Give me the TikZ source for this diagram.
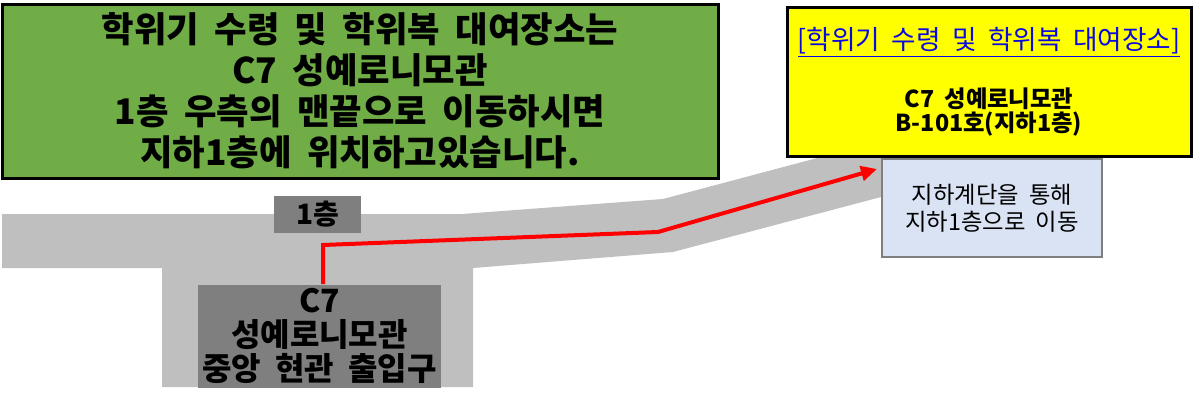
\documentclass[tikz,border=0pt]{standalone}
\usepackage{fontspec}
\setmainfont{Noto Sans CJK KR}[WordSpace=1.9]
\usetikzlibrary{arrows.meta}

\definecolor{boxgreen}{HTML}{70AD47}
\definecolor{boxyellow}{HTML}{FFFF00}
\definecolor{hallgray}{HTML}{BFBFBF}
\definecolor{roomgray}{HTML}{7F7F7F}
\definecolor{stairblue}{HTML}{DAE3F3}
\definecolor{linkblue}{HTML}{0A0AE0}

\tikzset{
  infobox/.style={draw=black, line width=2.25pt, inner sep=0pt, align=center},
  graybox/.style={fill=roomgray, inner sep=0pt, align=center},
  route/.style={draw=red, line width=3pt, -{Triangle[length=12pt,width=11pt]}},
}

\begin{document}
\begin{tikzpicture}[x=0.75pt,y=-0.75pt]
        \useasboundingbox (0,0) rectangle (1200,407);
        % hallway
        \fill[hallgray] (2,214) -- (462,214) -- (663,199) -- (900,136) -- (900,192)
          -- (673,252) -- (473,268) -- (473,387) -- (162,387) -- (162,268) -- (2,268) -- cycle;
        \node[graybox, minimum width=65.25pt, minimum height=27.75pt,
          font=\bfseries\fontsize{21}{21}\selectfont] (floor) at (317.5,214.5) {1층};
        \node[graybox, minimum width=182.25pt, minimum height=77.25pt,
          font=\bfseries\fontsize{24}{25.5}\selectfont] (entrance) at (319.5,336)
          {C7\\성예로니모관\\중앙 현관 출입구};
        % route
        \coordinate (bend1) at (323,245);
        \coordinate (bend2) at (658,232);
        \coordinate (tip) at (877,169);
        \draw[route] (entrance.north -| bend1) -- (bend1) -- (bend2) -- (tip);
        % boxes
        \node[infobox, fill=boxgreen, minimum width=537pt, minimum height=130.5pt,
          font=\bfseries\fontsize{26.5}{30.75}\selectfont] (notice) at (360,91)
          {학위기 수령 및 학위복 대여장소는\\C7 성예로니모관\\1층 우측의 맨끝으로 이동하시면\\지하1층에 위치하고있습니다.};
        \node[infobox, fill=boxyellow, minimum width=303pt, minimum height=111.75pt] (room) at (989,81.5) {};
        \node[font=\fontsize{20}{22}\selectfont, text=linkblue] (roomtitle) at (989,42)
          {\underline{[학위기 수령 및 학위복 대여장소]}};
        \node[align=center, font=\bfseries\fontsize{17.5}{17.5}\selectfont] (roomno) at (989,112)
          {C7 성예로니모관\\B-101호(지하1층)};
        \node[draw=roomgray, line width=1pt, fill=stairblue, minimum width=165pt, minimum height=73.5pt,
          align=center, font=\fontsize{17.5}{20}\selectfont] (stairs) at (992,208)
          {지하계단을 통해\\지하1층으로 이동};
\end{tikzpicture}
\end{document}
